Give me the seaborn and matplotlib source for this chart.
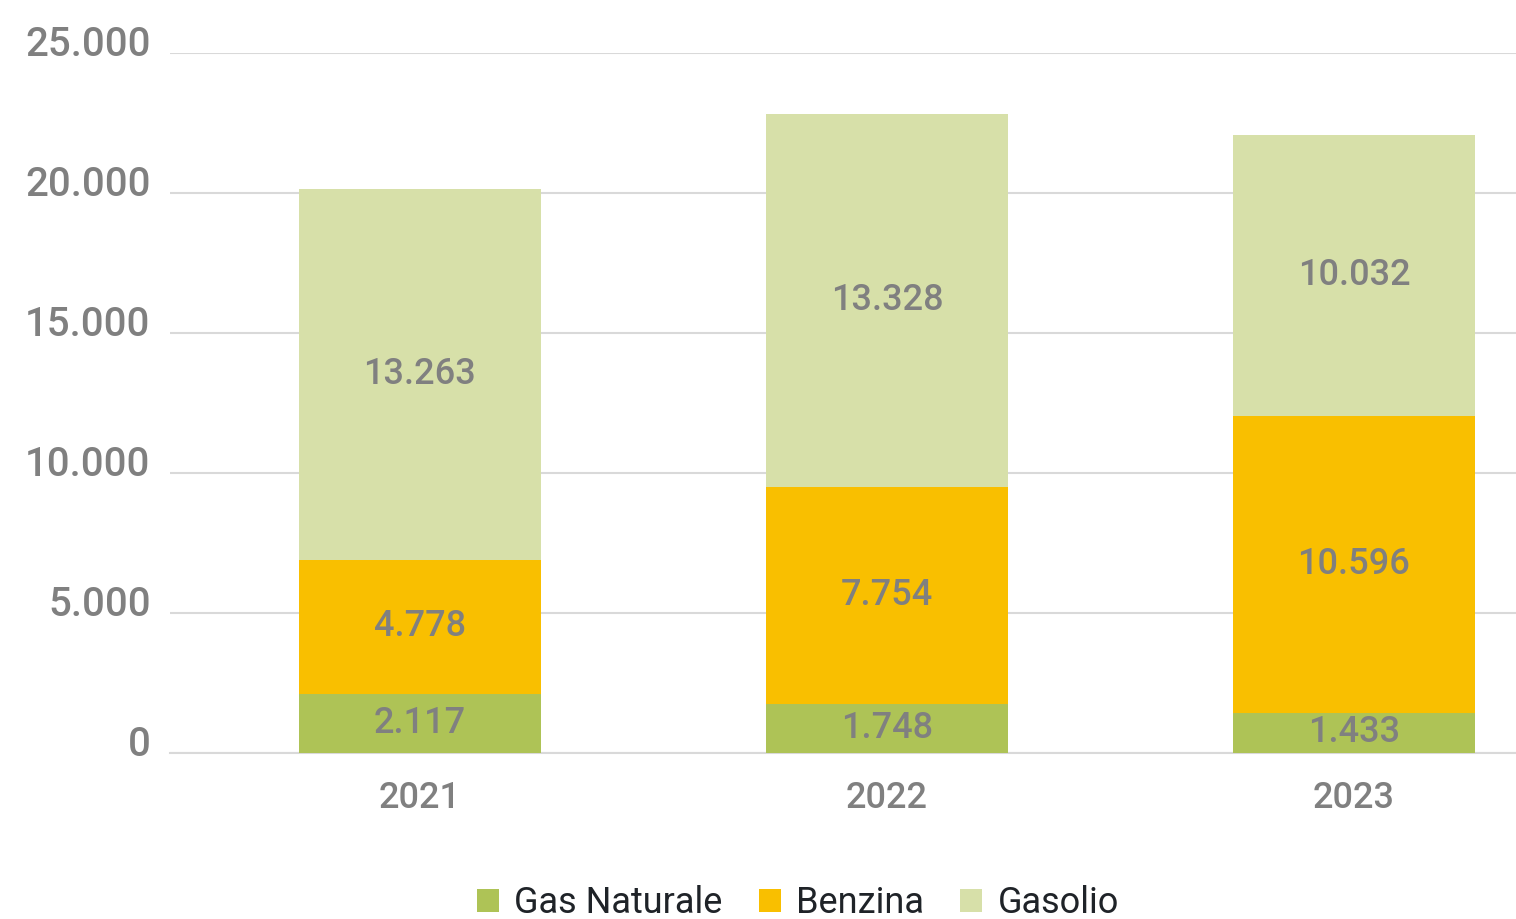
import matplotlib
matplotlib.use("Agg")
import matplotlib.pyplot as plt
import matplotlib.transforms as mtransforms
from matplotlib.patches import Patch
import numpy as np
import pandas as pd
import seaborn as sns

# Consumption by fuel type per year
years = ["2021", "2022", "2023"]
gas_naturale = [2117, 1748, 1433]
benzina = [4778, 7754, 10596]
gasolio = [13263, 13328, 10032]

series_names = ["Gas Naturale", "Benzina", "Gasolio"]
series_colors = ["#aec356", "#f9bf00", "#d7e0a9"]
y_ticks = [0, 5000, 10000, 15000, 20000, 25000]

sns.set_theme(style="white")
plt.rcParams["font.family"] = ["Roboto", "DejaVu Sans"]

GRAY = "#808080"
GRID = "#d9d9d9"


def fmt_it(v):
    return f"{int(round(v)):,}".replace(",", ".")


values = np.array([gas_naturale, benzina, gasolio], dtype=float)
cum_top = np.cumsum(values, axis=0)
cum_bottom = cum_top - values

df = pd.DataFrame({"anno": years})
for name, tops in zip(series_names, cum_top):
    df[name] = tops

fig = plt.figure(figsize=(15.16, 9.19), dpi=100)
ax = fig.add_axes([170 / 1516, 1 - 753 / 919, 1 - 170 / 1516, (753 - 53) / 919])

# Stacked bars: draw cumulative totals from the tallest down
bar_width = 0.518
for name, color in reversed(list(zip(series_names, series_colors))):
    sns.barplot(data=df, x="anno", y=name, color=color, width=bar_width,
                saturation=1, ax=ax, zorder=3, linewidth=0, order=years)

# Value labels centred in each segment
for si in range(len(series_names)):
    for xi in range(len(years)):
        yc = (cum_bottom[si, xi] + cum_top[si, xi]) / 2
        ax.text(xi, yc, fmt_it(values[si, xi]), ha="center", va="center",
                fontsize=26, color=GRAY, fontweight=500, zorder=5)

ax.set_ylim(0, 25000)
ax.set_xlim(-0.535, 2.347)
ax.set_yticks(y_ticks)
ax.set_yticklabels([fmt_it(t) for t in y_ticks])
ax.yaxis.grid(True, color=GRID, linewidth=1.5, zorder=0)
ax.xaxis.grid(False)
ax.set_axisbelow(True)
for side in ["top", "right", "left"]:
    ax.spines[side].set_visible(False)
ax.spines["bottom"].set_color(GRID)
ax.spines["bottom"].set_linewidth(1.5)
ax.tick_params(axis="y", length=0, pad=14, labelsize=29, labelcolor=GRAY)
ax.tick_params(axis="x", length=0, pad=20, labelsize=26, labelcolor=GRAY)

# y labels sit slightly above their gridlines
lift = mtransforms.ScaledTranslation(0, 12 / 100, fig.dpi_scale_trans)
for lbl in ax.get_yticklabels():
    lbl.set_fontweight(500)
    lbl.set_transform(lbl.get_transform() + lift)
for lbl in ax.get_xticklabels():
    lbl.set_fontweight(500)
ax.set_xlabel("")
ax.set_ylabel("")

handles = [Patch(facecolor=c, edgecolor="none", label=n)
           for n, c in zip(series_names, series_colors)]
fig.legend(handles=handles, loc="center", bbox_to_anchor=(798 / 1516, 1 - 903 / 919),
           ncol=3, frameon=False, fontsize=26, handlelength=0.61, handleheight=0.61,
           handletextpad=0.42, columnspacing=1.0, borderpad=0, labelcolor="#1f2328")

fig.savefig("out.png", dpi=100)
